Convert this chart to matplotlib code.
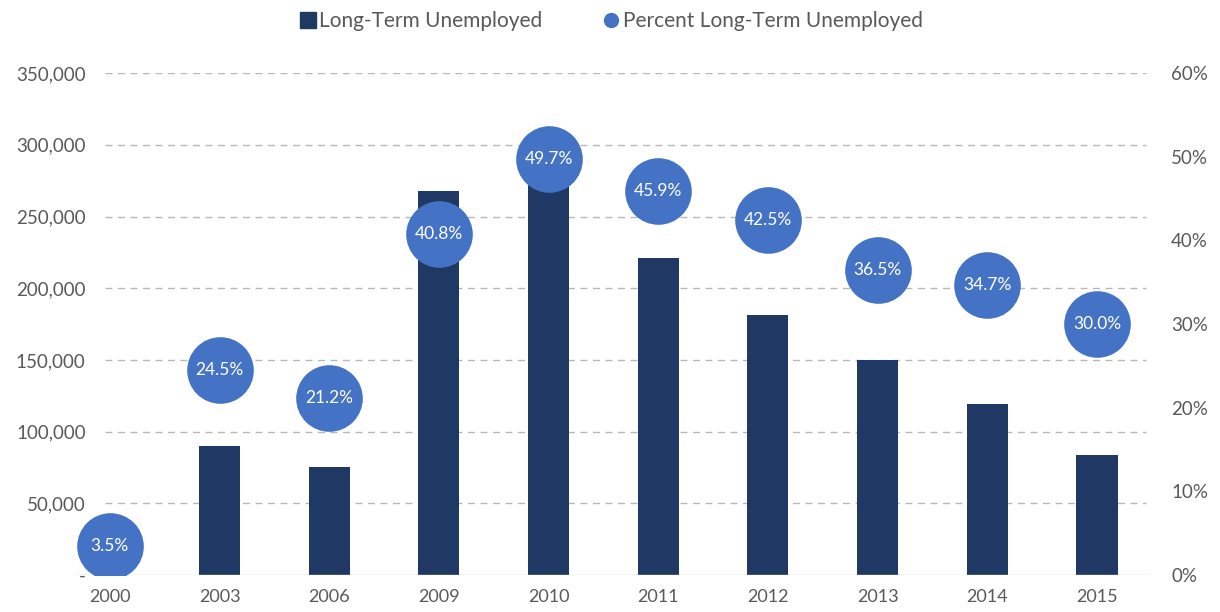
import matplotlib
matplotlib.use('Agg')
import matplotlib.pyplot as plt
from matplotlib.lines import Line2D

years = ['2000', '2003', '2006', '2009', '2010', '2011', '2012', '2013', '2014', '2015']
long_term = [0, 90000, 75000, 268000, 285000, 221000, 181000, 150000, 119000, 84000]
pct_long_term = [3.5, 24.5, 21.2, 40.8, 49.7, 45.9, 42.5, 36.5, 34.7, 30.0]

left_ticks = [0, 50000, 100000, 150000, 200000, 250000, 300000, 350000]
left_labels = ['-', '50,000', '100,000', '150,000', '200,000', '250,000', '300,000', '350,000']
right_ticks = [0, 10, 20, 30, 40, 50, 60]
right_labels = ['0%', '10%', '20%', '30%', '40%', '50%', '60%']

navy = '#1F3864'
blue = '#4472C4'
grey_txt = '#595959'

plt.rcParams['font.family'] = ['Lato', 'DejaVu Sans']

fig = plt.figure(figsize=(12.2, 6.12), dpi=100)
ax = fig.add_axes([0.0451, 0.0605, 0.899, 0.820])
x = list(range(len(years)))

ax.bar(x, long_term, width=0.375, color=navy, zorder=2)
ax.set_xlim(-0.5, 9.5)
ax.set_ylim(0, 350000)
ax.set_yticks(left_ticks)
ax.set_yticklabels(left_labels)
ax.set_xticks(x)
ax.set_xticklabels(years)
for s in ax.spines.values():
    s.set_visible(False)
ax.tick_params(axis='y', length=0, pad=-22, labelsize=13.5, labelcolor=grey_txt)
ax.tick_params(axis='x', length=0, pad=10, labelsize=13, labelcolor=grey_txt)

# dashed gridlines, not full width like in the original
for t in left_ticks[1:]:
    ax.axhline(t, xmin=0.046, xmax=0.995, color='#B8B8B8', lw=1.0,
               ls=(0, (5, 4)), zorder=1)
ax.axhline(0, xmin=0.019, xmax=0.997, color='#D0D0D0', lw=1.0, zorder=3)

ax2 = ax.twinx()
ax2.set_ylim(0, 60)
ax2.set_yticks(right_ticks)
ax2.set_yticklabels(right_labels)
for s in ax2.spines.values():
    s.set_visible(False)
ax2.tick_params(axis='y', length=0, pad=14, labelsize=13.5, labelcolor=grey_txt)
ax2.scatter(x, pct_long_term, s=2300, color=blue, zorder=4, linewidths=0)
for xi, p in zip(x, pct_long_term):
    ax2.text(xi, p, '%.1f%%' % p, ha='center', va='center', color='white',
             fontsize=12.5, zorder=5)

handles = [Line2D([], [], marker='s', ls='', color=navy, markersize=12),
           Line2D([], [], marker='o', ls='', color=blue, markersize=10)]
fig.legend(handles, ['Long-Term Unemployed', 'Percent Long-Term Unemployed'],
           loc='center', bbox_to_anchor=(0.5, 0.965), ncol=2, frameon=False,
           fontsize=15, labelcolor=grey_txt, handletextpad=0.05,
           columnspacing=2.8, handlelength=1.0)

fig.savefig('out.png', dpi=100)
